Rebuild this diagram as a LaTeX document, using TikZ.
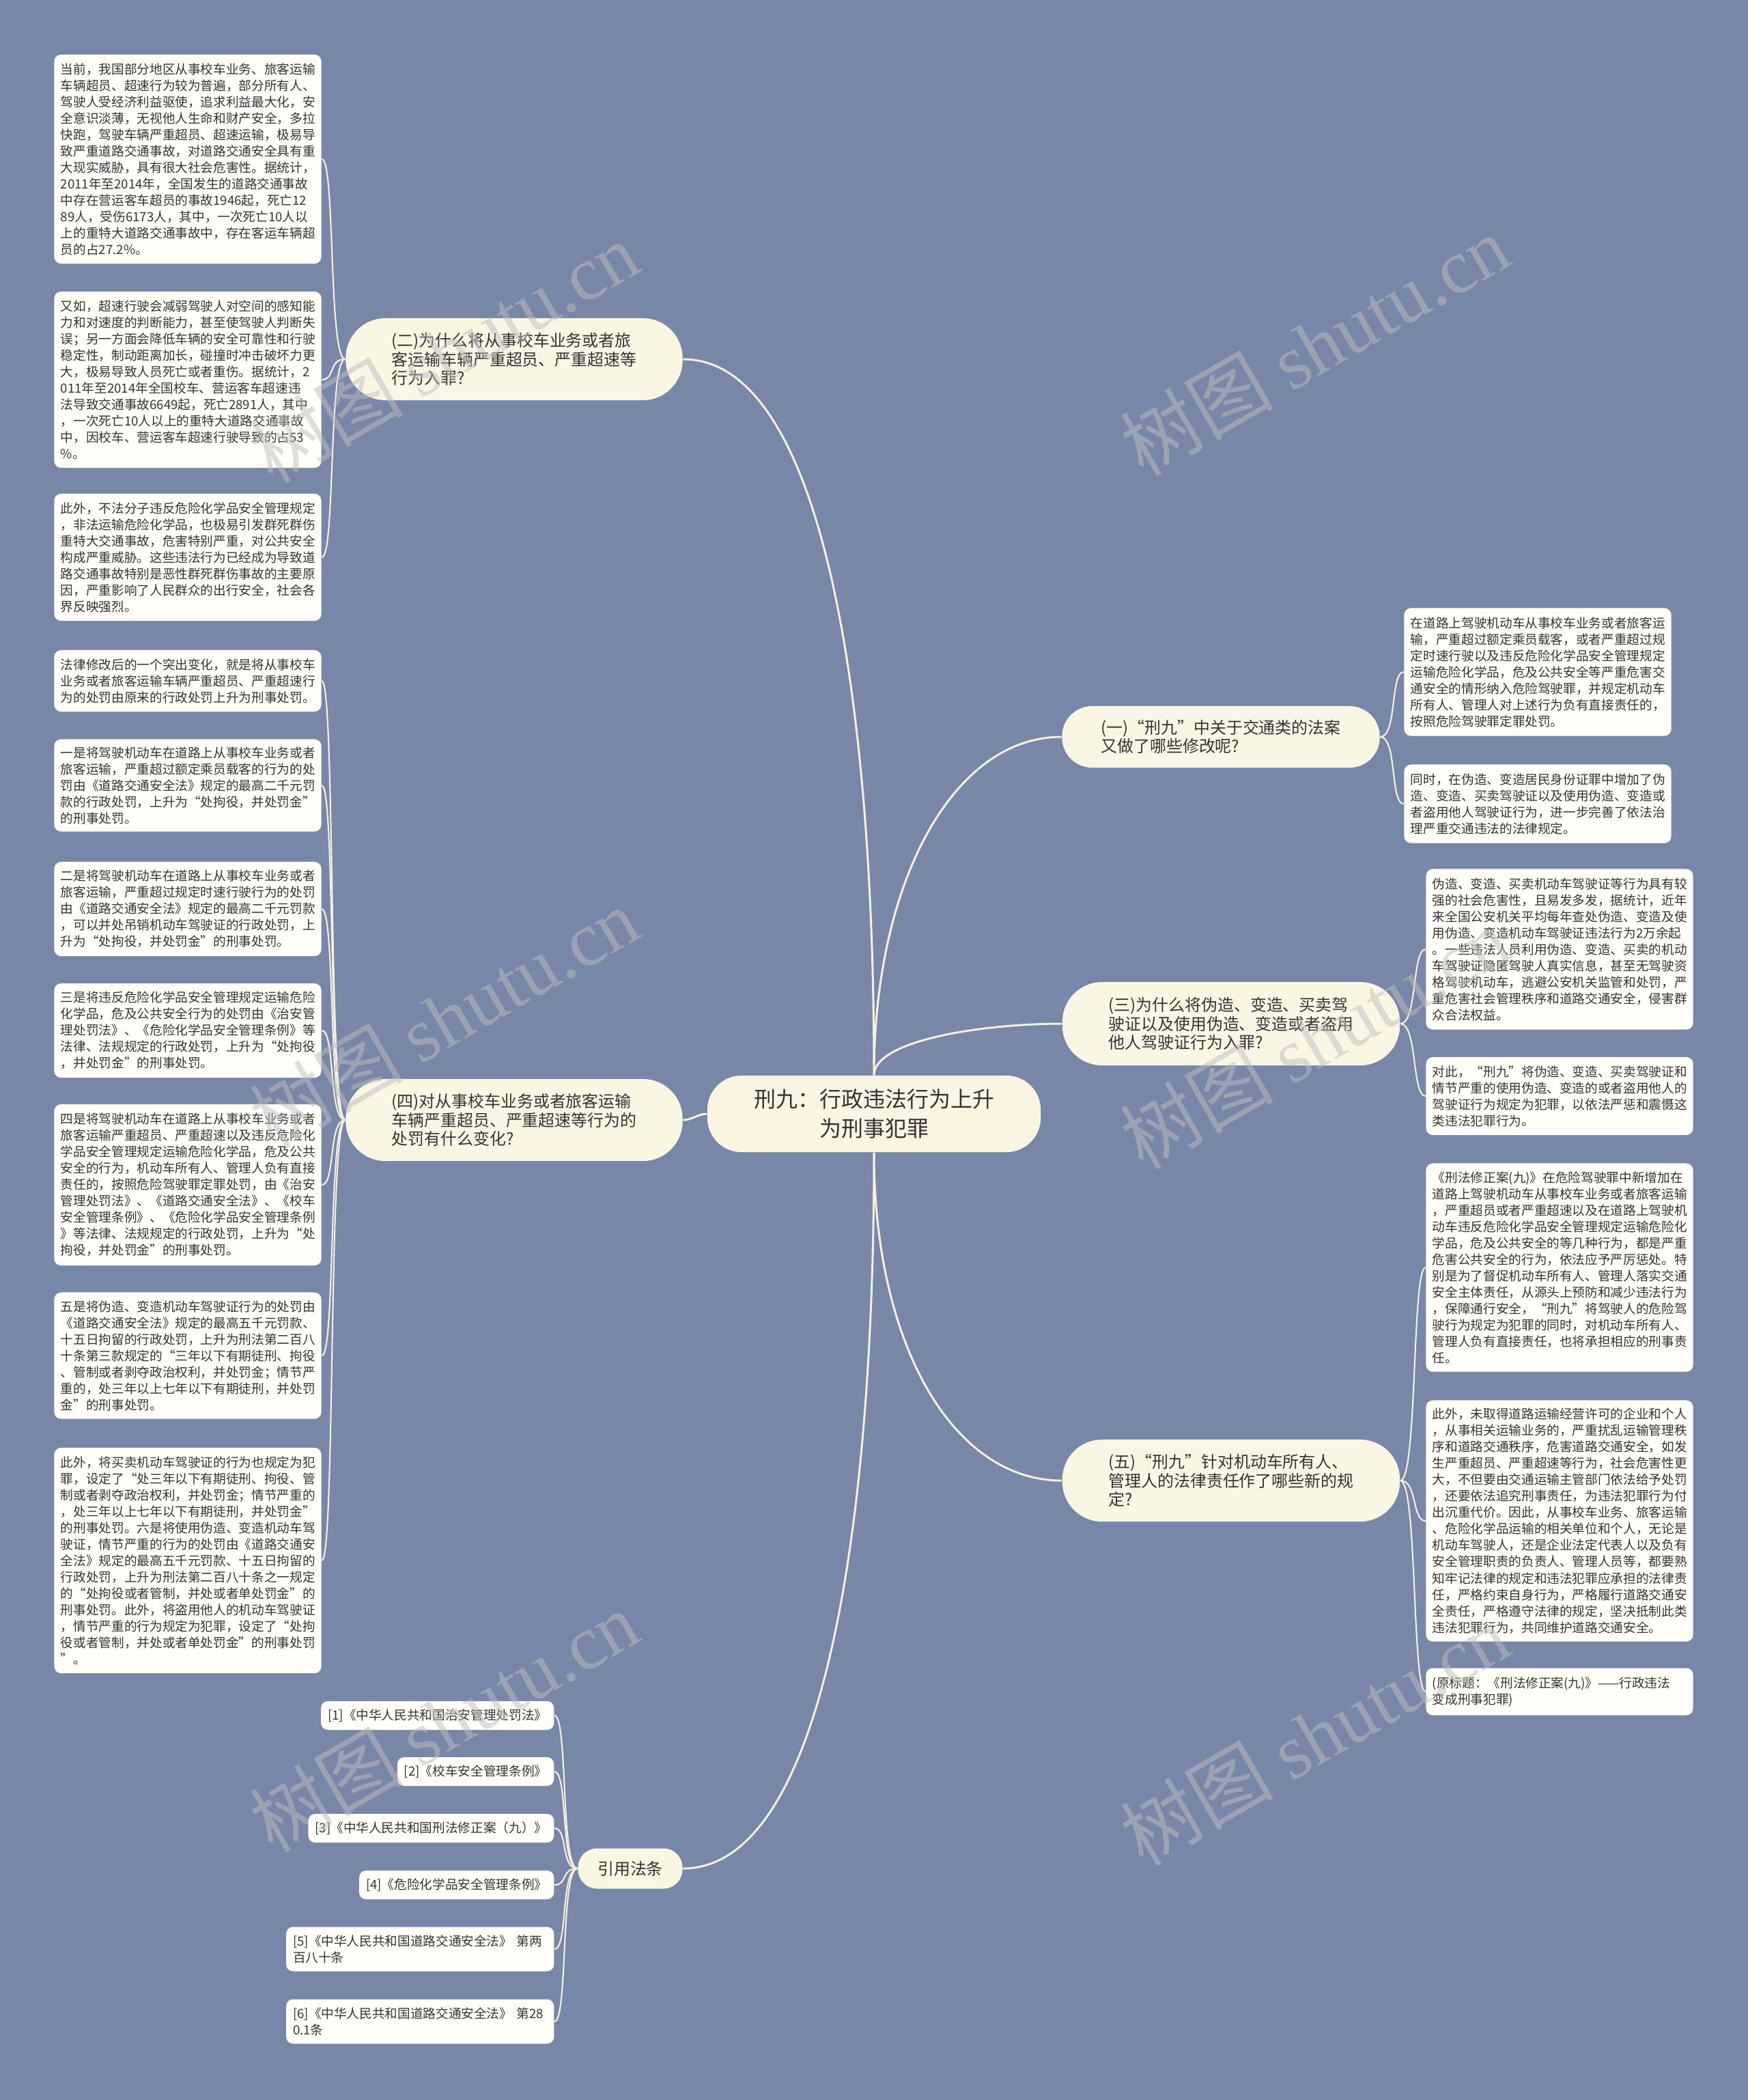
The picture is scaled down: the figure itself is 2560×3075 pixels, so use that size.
\documentclass[tikz,border=0pt]{standalone}
\usepackage{fontspec}
\setmainfont{Noto Sans CJK SC}
\newfontfamily\markfont{Liberation Serif}
\usetikzlibrary{positioning}
\definecolor{MapBg}{RGB}{120,135,168}
\definecolor{MapLine}{RGB}{244,240,222}
\definecolor{MapRoot}{RGB}{250,245,226}
\definecolor{MapBranch}{RGB}{250,246,228}
\definecolor{MapLeaf}{RGB}{255,254,249}
\definecolor{MapText}{RGB}{51,51,51}
\definecolor{MapMark}{RGB}{190,190,190}
\tikzset{
  map/root/.style={
    fill=MapRoot,
    rounded corners=0.5cm,
    align=center,
    text=MapText,
    minimum width=4.88cm,
    minimum height=1.12cm,
    font=\fontsize{9.1pt}{12.3pt}\selectfont
  },
  map/branch/.style={
    fill=MapBranch,
    rounded corners=0.44cm,
    align=left,
    text=MapText,
    inner xsep=0.3cm,
    inner ysep=0.1cm,
    font=\fontsize{6.8pt}{7.8pt}\selectfont
  },
  map/leaf/.style={
    fill=MapLeaf,
    rounded corners=0.1cm,
    align=left,
    text=MapText,
    text width=3.72cm,
    inner xsep=0.095cm,
    inner ysep=0.08cm,
    font=\fontsize{5.3pt}{6.83pt}\selectfont
  },
  map/cite/.style={
    map/leaf,
    text width=,
    anchor=east,
    minimum height=0.42cm,
    inner xsep=0.1cm
  },
  map/trunk/.style={draw=MapLine, line width=0.85pt},
  map/twig/.style={draw=MapLine, line width=0.6pt},
  map/mark/.style={text=MapMark, text opacity=0.5, rotate=30, font=\fontsize{32pt}{36pt}\selectfont}
}

\begin{document}
\begin{tikzpicture}[x=0.01cm,y=-0.01cm]
  \path[use as bounding box,fill=MapBg] (0,0) rectangle (2560,3075);

  % root and first level
  \node[map/root] (root) at (1280,1631) {刑九：行政违法行为上升\\为刑事犯罪};
  \node[map/branch,minimum width=4.93cm,minimum height=1.2cm,rounded corners=0.58cm] (q2) at (753,526) {(二)为什么将从事校车业务或者旅\\客运输车辆严重超员、严重超速等\\行为入罪?};
  \node[map/branch,minimum width=4.93cm,minimum height=1.2cm,rounded corners=0.58cm] (q4) at (753,1640) {(四)对从事校车业务或者旅客运输\\车辆严重超员、严重超速等行为的\\处罚有什么变化?};
  \node[map/branch,minimum width=1.53cm,minimum height=0.59cm,inner xsep=0.2cm,rounded corners=0.28cm] (refs) at (923,2736) {引用法条};
  \node[map/branch,minimum width=4.65cm,minimum height=0.9cm] (q1) at (1788,1079) {(一)“刑九”中关于交通类的法案\\又做了哪些修改呢?};
  \node[map/branch,minimum width=4.94cm,minimum height=1.22cm,rounded corners=0.58cm] (q3) at (1803,1499) {(三)为什么将伪造、变造、买卖驾\\驶证以及使用伪造、变造或者盗用\\他人驾驶证行为入罪?};
  \node[map/branch,minimum width=4.94cm,minimum height=1.2cm,rounded corners=0.58cm] (q5) at (1803,2168) {(五)“刑九”针对机动车所有人、\\管理人的法律责任作了哪些新的规\\定?};

  % leaves of (二)
  \node[map/leaf,minimum height=3.06cm] (a1) at (275,233) {当前，我国部分地区从事校车业务、旅客运输\\车辆超员、超速行为较为普遍，部分所有人、\\驾驶人受经济利益驱使，追求利益最大化，安\\全意识淡薄，无视他人生命和财产安全，多拉\\快跑，驾驶车辆严重超员、超速运输，极易导\\致严重道路交通事故，对道路交通安全具有重\\大现实威胁，具有很大社会危害性。据统计，\\2011年至2014年，全国发生的道路交通事故\\中存在营运客车超员的事故1946起，死亡12\\89人，受伤6173人，其中，一次死亡10人以\\上的重特大道路交通事故中，存在客运车辆超\\员的占27.2\%。};
  \node[map/leaf,minimum height=2.58cm] (a2) at (275,556) {又如，超速行驶会减弱驾驶人对空间的感知能\\力和对速度的判断能力，甚至使驾驶人判断失\\误；另一方面会降低车辆的安全可靠性和行驶\\稳定性，制动距离加长，碰撞时冲击破坏力更\\大，极易导致人员死亡或者重伤。据统计，2\\011年至2014年全国校车、营运客车超速违\\法导致交通事故6649起，死亡2891人，其中\\，一次死亡10人以上的重特大道路交通事故\\中，因校车、营运客车超速行驶导致的占53\\\%。};
  \node[map/leaf,minimum height=1.86cm] (a3) at (275,816) {此外，不法分子违反危险化学品安全管理规定\\，非法运输危险化学品，也极易引发群死群伤\\重特大交通事故，危害特别严重，对公共安全\\构成严重威胁。这些违法行为已经成为导致道\\路交通事故特别是恶性群死群伤事故的主要原\\因，严重影响了人民群众的出行安全，社会各\\界反映强烈。};

  % leaves of (四)
  \node[map/leaf,minimum height=0.9cm] (b1) at (275,997) {法律修改后的一个突出变化，就是将从事校车\\业务或者旅客运输车辆严重超员、严重超速行\\为的处罚由原来的行政处罚上升为刑事处罚。};
  \node[map/leaf,minimum height=1.35cm] (b2) at (275,1150) {一是将驾驶机动车在道路上从事校车业务或者\\旅客运输，严重超过额定乘员载客的行为的处\\罚由《道路交通安全法》规定的最高二千元罚\\款的行政处罚，上升为“处拘役，并处罚金”\\的刑事处罚。};
  \node[map/leaf,minimum height=1.38cm] (b3) at (275,1331) {二是将驾驶机动车在道路上从事校车业务或者\\旅客运输，严重超过规定时速行驶行为的处罚\\由《道路交通安全法》规定的最高二千元罚款\\，可以并处吊销机动车驾驶证的行政处罚，上\\升为“处拘役，并处罚金”的刑事处罚。};
  \node[map/leaf,minimum height=1.38cm] (b4) at (275,1509) {三是将违反危险化学品安全管理规定运输危险\\化学品，危及公共安全行为的处罚由《治安管\\理处罚法》、《危险化学品安全管理条例》等\\法律、法规规定的行政处罚，上升为“处拘役\\，并处罚金”的刑事处罚。};
  \node[map/leaf,minimum height=2.36cm] (b5) at (275,1735) {四是将驾驶机动车在道路上从事校车业务或者\\旅客运输严重超员、严重超速以及违反危险化\\学品安全管理规定运输危险化学品，危及公共\\安全的行为，机动车所有人、管理人负有直接\\责任的，按照危险驾驶罪定罪处罚，由《治安\\管理处罚法》、《道路交通安全法》、《校车\\安全管理条例》、《危险化学品安全管理条例\\》等法律、法规规定的行政处罚，上升为“处\\拘役，并处罚金”的刑事处罚。};
  \node[map/leaf,minimum height=1.85cm] (b6) at (275,1985) {五是将伪造、变造机动车驾驶证行为的处罚由\\《道路交通安全法》规定的最高五千元罚款、\\十五日拘留的行政处罚，上升为刑法第二百八\\十条第三款规定的“三年以下有期徒刑、拘役\\、管制或者剥夺政治权利，并处罚金；情节严\\重的，处三年以上七年以下有期徒刑，并处罚\\金”的刑事处罚。};
  \node[map/leaf,minimum height=3.3cm] (b7) at (275,2285) {此外，将买卖机动车驾驶证的行为也规定为犯\\罪，设定了“处三年以下有期徒刑、拘役、管\\制或者剥夺政治权利，并处罚金；情节严重的\\，处三年以上七年以下有期徒刑，并处罚金”\\的刑事处罚。六是将使用伪造、变造机动车驾\\驶证，情节严重的行为的处罚由《道路交通安\\全法》规定的最高五千元罚款、十五日拘留的\\行政处罚，上升为刑法第二百八十条之一规定\\的“处拘役或者管制，并处或者单处罚金”的\\刑事处罚。此外，将盗用他人的机动车驾驶证\\，情节严重的行为规定为犯罪，设定了“处拘\\役或者管制，并处或者单处罚金”的刑事处罚\\”。};

  % cited laws
  \node[map/cite] (c1) at (812,2512) {[1]《中华人民共和国治安管理处罚法》};
  \node[map/cite] (c2) at (812,2594) {[2]《校车安全管理条例》};
  \node[map/cite] (c3) at (812,2677) {[3]《中华人民共和国刑法修正案（九）》};
  \node[map/cite] (c4) at (812,2760) {[4]《危险化学品安全管理条例》};
  \node[map/cite,text width=3.72cm,minimum height=0.65cm] (c5) at (812,2854) {[5]《中华人民共和国道路交通安全法》 第两\\百八十条};
  \node[map/cite,text width=3.72cm,minimum height=0.65cm] (c6) at (812,2960) {[6]《中华人民共和国道路交通安全法》 第28\\0.1条};

  % leaves on the right
  \node[map/leaf,minimum height=1.87cm] (d1) at (2252,984) {在道路上驾驶机动车从事校车业务或者旅客运\\输，严重超过额定乘员载客，或者严重超过规\\定时速行驶以及违反危险化学品安全管理规定\\运输危险化学品，危及公共安全等严重危害交\\通安全的情形纳入危险驾驶罪，并规定机动车\\所有人、管理人对上述行为负有直接责任的，\\按照危险驾驶罪定罪处罚。};
  \node[map/leaf,minimum height=1.15cm] (d2) at (2252,1177) {同时，在伪造、变造居民身份证罪中增加了伪\\造、变造、买卖驾驶证以及使用伪造、变造或\\者盗用他人驾驶证行为，进一步完善了依法治\\理严重交通违法的法律规定。};
  \node[map/leaf,minimum height=2.35cm] (e1) at (2284,1390) {伪造、变造、买卖机动车驾驶证等行为具有较\\强的社会危害性，且易发多发，据统计，近年\\来全国公安机关平均每年查处伪造、变造及使\\用伪造、变造机动车驾驶证违法行为2万余起\\。一些违法人员利用伪造、变造、买卖的机动\\车驾驶证隐匿驾驶人真实信息，甚至无驾驶资\\格驾驶机动车，逃避公安机关监管和处罚，严\\重危害社会管理秩序和道路交通安全，侵害群\\众合法权益。};
  \node[map/leaf,minimum height=1.14cm] (e2) at (2284,1605) {对此，“刑九”将伪造、变造、买卖驾驶证和\\情节严重的使用伪造、变造的或者盗用他人的\\驾驶证行为规定为犯罪，以依法严惩和震慑这\\类违法犯罪行为。};
  \node[map/leaf,minimum height=3.05cm] (f1) at (2284,1856) {《刑法修正案(九)》在危险驾驶罪中新增加在\\道路上驾驶机动车从事校车业务或者旅客运输\\，严重超员或者严重超速以及在道路上驾驶机\\动车违反危险化学品安全管理规定运输危险化\\学品，危及公共安全的等几种行为，都是严重\\危害公共安全的行为，依法应予严厉惩处。特\\别是为了督促机动车所有人、管理人落实交通\\安全主体责任，从源头上预防和减少违法行为\\，保障通行安全，“刑九”将驾驶人的危险驾\\驶行为规定为犯罪的同时，对机动车所有人、\\管理人负有直接责任，也将承担相应的刑事责\\任。};
  \node[map/leaf,minimum height=3.53cm] (f2) at (2284,2227) {此外，未取得道路运输经营许可的企业和个人\\，从事相关运输业务的，严重扰乱运输管理秩\\序和道路交通秩序，危害道路交通安全，如发\\生严重超员、严重超速等行为，社会危害性更\\大，不但要由交通运输主管部门依法给予处罚\\，还要依法追究刑事责任，为违法犯罪行为付\\出沉重代价。因此，从事校车业务、旅客运输\\、危险化学品运输的相关单位和个人，无论是\\机动车驾驶人，还是企业法定代表人以及负有\\安全管理职责的负责人、管理人员等，都要熟\\知牢记法律的规定和违法犯罪应承担的法律责\\任，严格约束自身行为，严格履行道路交通安\\全责任，严格遵守法律的规定，坚决抵制此类\\违法犯罪行为，共同维护道路交通安全。};
  \node[map/leaf,minimum height=0.69cm] (f3) at (2284,2477) {(原标题：《刑法修正案(九)》——行政违法\\变成刑事犯罪)};

  % connectors
  \draw[map/trunk] (root.north) to[out=90,in=0,out distance=5.7cm,in distance=2cm] (q2.east);
  \draw[map/trunk] (root.west) to[out=180,in=0] (q4.east);
  \draw[map/trunk] (root.south) to[out=-90,in=0,out distance=5.7cm,in distance=2cm] (refs.east);
  \draw[map/trunk] (root.north) to[out=90,in=180,out distance=2.8cm,in distance=1.6cm] (q1.west);
  \draw[map/trunk] (root.north) to[out=90,in=180,out distance=0.5cm,in distance=1.2cm] (q3.west);
  \draw[map/trunk] (root.south) to[out=-90,in=180,out distance=2.8cm,in distance=1.6cm] (q5.west);
  \foreach \n in {a1,a2,a3}{\draw[map/twig] (q2.west) to[out=180,in=0,out distance=0.25cm,in distance=0.2cm] (\n.east);}
  \foreach \n in {b1,b2,b3,b4,b5,b6,b7}{\draw[map/twig] (q4.west) to[out=180,in=0,out distance=0.25cm,in distance=0.2cm] (\n.east);}
  \foreach \n in {c1,c2,c3,c4,c5,c6}{\draw[map/twig] (refs.west) to[out=180,in=0,out distance=0.25cm,in distance=0.2cm] (\n.east);}
  \foreach \n in {d1,d2}{\draw[map/twig] (q1.east) to[out=0,in=180,out distance=0.25cm,in distance=0.2cm] (\n.west);}
  \foreach \n in {e1,e2}{\draw[map/twig] (q3.east) to[out=0,in=180,out distance=0.25cm,in distance=0.2cm] (\n.west);}
  \foreach \n in {f1,f2,f3}{\draw[map/twig] (q5.east) to[out=0,in=180,out distance=0.25cm,in distance=0.2cm] (\n.west);}

  % watermarks
  \foreach \mx/\my [count=\k] in {650/515,1925/505,650/1490,1925/1520,650/2520,1925/2540}{
    \node[map/mark] (mark\k) at (\mx,\my) {树图 {\markfont shutu.cn}};
  }
\end{tikzpicture}
\end{document}
